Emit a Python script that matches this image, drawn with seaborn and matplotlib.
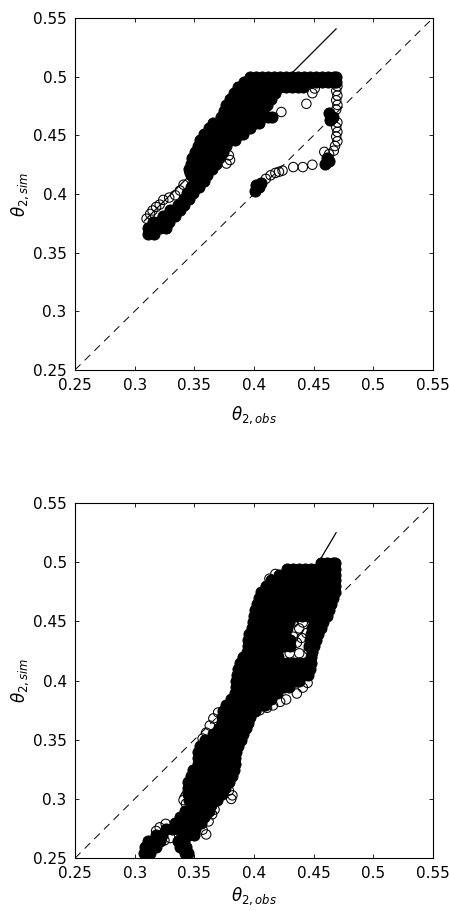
import numpy as np
import pandas as pd
import matplotlib
matplotlib.use("Agg")
import matplotlib.pyplot as plt
import seaborn as sns

# ---------------- data ----------------
TICKS = [0.25, 0.30, 0.35, 0.40, 0.45, 0.50, 0.55]
TICK_LABELS = ["0.25", "0.3", "0.35", "0.4", "0.45", "0.5", "0.55"]
ONE_TO_ONE = [0.25, 0.55]

# panel 1: fitted line end points
FIT1_X = [0.308, 0.469]
FIT1_Y = [0.377, 0.541]
# panel 2: fitted line end points
FIT2_X = [0.338, 0.469]
FIT2_Y = [0.302, 0.525]

# panel 1 - densely overlapping observations, listed row by row (theta_sim, [theta_obs ...])
TOP_DENSE_ROWS = [
    (0.366, [0.311, 0.316]),
    (0.371, [0.311, 0.316, 0.321, 0.326]),
    (0.376, [0.315, 0.320, 0.325, 0.329]),
    (0.381, [0.324, 0.329, 0.334]),
    (0.386, [0.330, 0.335, 0.338]),
    (0.391, [0.336, 0.341]),
    (0.396, [0.341, 0.346]),
    (0.401, [0.344, 0.349]),
    (0.406, [0.347, 0.352, 0.354]),
    (0.411, [0.350, 0.355, 0.358]),
    (0.416, [0.347, 0.352, 0.357, 0.361]),
    (0.421, [0.346, 0.351, 0.356, 0.361, 0.365]),
    (0.426, [0.347, 0.352, 0.357, 0.362, 0.368]),
    (0.431, [0.348, 0.353, 0.358, 0.363, 0.368, 0.371]),
    (0.436, [0.351, 0.356, 0.361, 0.366, 0.371, 0.374]),
    (0.441, [0.353, 0.358, 0.363, 0.368, 0.373, 0.377]),
    (0.446, [0.355, 0.360, 0.365, 0.370, 0.375, 0.380, 0.384]),
    (0.451, [0.358, 0.363, 0.368, 0.373, 0.378, 0.383, 0.388, 0.391]),
    (0.456, [0.362, 0.367, 0.372, 0.377, 0.382, 0.387, 0.392, 0.397]),
    (0.461, [0.366, 0.371, 0.376, 0.381, 0.386, 0.391, 0.396, 0.401, 0.404]),
    (0.466, [0.372, 0.377, 0.382, 0.387, 0.392, 0.397, 0.402, 0.407, 0.412, 0.415]),
    (0.471, [0.375, 0.380, 0.385, 0.390, 0.395, 0.400, 0.405, 0.408]),
    (0.476, [0.377, 0.382, 0.387, 0.392, 0.397, 0.402, 0.407, 0.411]),
    (0.481, [0.380, 0.385, 0.390, 0.395, 0.400, 0.405, 0.410, 0.414]),
    (0.486, [0.383, 0.388, 0.393, 0.398, 0.403, 0.408, 0.413, 0.418]),
    (0.491, [0.387, 0.392, 0.397, 0.402, 0.407, 0.412, 0.417, 0.422, 0.427, 0.432, 0.437, 0.441]),
    (0.496, [0.392, 0.397, 0.402, 0.407, 0.412, 0.417, 0.422, 0.427, 0.432, 0.437, 0.442,
             0.447, 0.452, 0.457, 0.462, 0.467, 0.469]),
    (0.4995, [0.397, 0.402, 0.407, 0.412, 0.417, 0.422, 0.427, 0.432, 0.437, 0.442,
              0.447, 0.452, 0.457, 0.462, 0.467, 0.469]),
]
TOP_CLUSTER_X = [0.463, 0.466, 0.464, 0.461, 0.463, 0.460, 0.401, 0.404, 0.406, 0.402]
TOP_CLUSTER_Y = [0.469, 0.466, 0.463, 0.431, 0.428, 0.426, 0.403, 0.406, 0.409, 0.408]

# panel 1 - isolated observations
TOP_OPEN_X = [0.310, 0.313, 0.315, 0.318, 0.321, 0.324, 0.329, 0.334, 0.338, 0.341, 0.346,
              0.357, 0.377, 0.380, 0.379,
              0.423, 0.444, 0.449, 0.451,
              0.469, 0.470, 0.469, 0.470, 0.469, 0.470, 0.469, 0.470, 0.469, 0.470,
              0.469, 0.470, 0.468, 0.467, 0.459, 0.463,
              0.410, 0.414, 0.418, 0.421, 0.424, 0.433, 0.441, 0.449]
TOP_OPEN_Y = [0.379, 0.383, 0.386, 0.389, 0.391, 0.395, 0.397, 0.399, 0.403, 0.408, 0.418,
              0.426, 0.426, 0.429, 0.433,
              0.470, 0.477, 0.486, 0.490,
              0.496, 0.492, 0.488, 0.484, 0.480, 0.476, 0.472, 0.461, 0.457, 0.453,
              0.449, 0.445, 0.441, 0.437, 0.436, 0.434,
              0.413, 0.416, 0.418, 0.419, 0.420, 0.423, 0.423, 0.425]

# panel 2 - densely overlapping observations
BOT_DENSE_ROWS = [
    (0.2545, [0.308, 0.313, 0.342, 0.345]),
    (0.2595, [0.309, 0.314, 0.318, 0.338, 0.343]),
    (0.2645, [0.311, 0.316, 0.321, 0.336, 0.341]),
    (0.2695, [0.318, 0.323, 0.340, 0.345, 0.350]),
    (0.2745, [0.326, 0.331, 0.336, 0.341, 0.346, 0.351]),
    (0.2795, [0.334, 0.339, 0.344, 0.349, 0.354, 0.356]),
    (0.2845, [0.338, 0.343, 0.348, 0.353, 0.358]),
    (0.2895, [0.342, 0.347, 0.352, 0.357, 0.362]),
    (0.2945, [0.347, 0.352, 0.357, 0.362, 0.364]),
    (0.2995, [0.346, 0.351, 0.356, 0.361, 0.366, 0.369]),
    (0.3045, [0.345, 0.350, 0.355, 0.360, 0.365, 0.370, 0.373]),
    (0.3095, [0.345, 0.350, 0.355, 0.360, 0.365, 0.370, 0.376]),
    (0.3145, [0.345, 0.350, 0.355, 0.360, 0.365, 0.370, 0.375, 0.379]),
    (0.3195, [0.347, 0.352, 0.357, 0.362, 0.367, 0.372, 0.377, 0.382]),
    (0.3245, [0.349, 0.354, 0.359, 0.364, 0.369, 0.374, 0.379, 0.383]),
    (0.3295, [0.353, 0.358, 0.363, 0.368, 0.373, 0.378, 0.384]),
    (0.3345, [0.353, 0.358, 0.363, 0.368, 0.373, 0.378, 0.384]),
    (0.3395, [0.353, 0.358, 0.363, 0.368, 0.373, 0.378, 0.385]),
    (0.3445, [0.355, 0.360, 0.365, 0.370, 0.375, 0.380, 0.387]),
    (0.3495, [0.359, 0.364, 0.369, 0.374, 0.379, 0.384, 0.389]),
    (0.3545, [0.366, 0.371, 0.376, 0.381, 0.386, 0.391]),
    (0.3595, [0.371, 0.376, 0.381, 0.386, 0.391, 0.393]),
    (0.3645, [0.373, 0.378, 0.383, 0.388, 0.393, 0.395]),
    (0.3695, [0.373, 0.378, 0.383, 0.388, 0.393, 0.397]),
    (0.3745, [0.374, 0.379, 0.384, 0.389, 0.394, 0.401]),
    (0.3795, [0.377, 0.382, 0.387, 0.392, 0.397, 0.402, 0.407, 0.409]),
    (0.3845, [0.381, 0.386, 0.391, 0.396, 0.401, 0.406, 0.411, 0.414]),
    (0.3895, [0.384, 0.389, 0.394, 0.399, 0.404, 0.409, 0.414, 0.419]),
    (0.3945, [0.385, 0.390, 0.395, 0.400, 0.405, 0.410, 0.415, 0.420, 0.425, 0.429]),
    (0.3995, [0.385, 0.390, 0.395, 0.400, 0.405, 0.410, 0.415, 0.420, 0.425, 0.430, 0.435, 0.438]),
    (0.4045, [0.386, 0.391, 0.396, 0.401, 0.406, 0.411, 0.416, 0.421, 0.426, 0.431, 0.436, 0.441, 0.445]),
    (0.4095, [0.387, 0.392, 0.397, 0.402, 0.407, 0.412, 0.417, 0.422, 0.427, 0.432, 0.437, 0.442, 0.447]),
    (0.4145, [0.388, 0.393, 0.398, 0.403, 0.408, 0.413, 0.418, 0.423, 0.428, 0.433, 0.438, 0.443, 0.448]),
    (0.4195, [0.391, 0.396, 0.401, 0.406, 0.411, 0.416, 0.420, 0.448]),
    (0.4245, [0.394, 0.399, 0.404, 0.409, 0.414, 0.419, 0.449]),
    (0.4295, [0.395, 0.400, 0.405, 0.410, 0.415, 0.420, 0.425, 0.430, 0.446, 0.450]),
    (0.4345, [0.395, 0.400, 0.405, 0.410, 0.415, 0.420, 0.425, 0.430, 0.447, 0.452]),
    (0.4395, [0.396, 0.401, 0.406, 0.411, 0.416, 0.421, 0.426, 0.448, 0.454]),
    (0.4445, [0.398, 0.403, 0.408, 0.413, 0.418, 0.423, 0.428, 0.449, 0.456]),
    (0.4495, [0.399, 0.404, 0.409, 0.414, 0.419, 0.424, 0.429, 0.450, 0.455, 0.458]),
    (0.4545, [0.400, 0.405, 0.410, 0.415, 0.420, 0.425, 0.430, 0.435, 0.440, 0.445, 0.450, 0.455, 0.461]),
    (0.4595, [0.401, 0.406, 0.411, 0.416, 0.421, 0.426, 0.431, 0.436, 0.441, 0.446, 0.451, 0.456, 0.463]),
    (0.4645, [0.403, 0.408, 0.413, 0.418, 0.423, 0.428, 0.433, 0.438, 0.443, 0.448, 0.453, 0.458, 0.465]),
    (0.4695, [0.404, 0.409, 0.414, 0.419, 0.424, 0.429, 0.434, 0.439, 0.444, 0.449, 0.454, 0.459, 0.466]),
    (0.4745, [0.406, 0.411, 0.416, 0.421, 0.426, 0.431, 0.436, 0.441, 0.446, 0.451, 0.456, 0.461, 0.468]),
    (0.4795, [0.410, 0.415, 0.420, 0.425, 0.430, 0.435, 0.440, 0.445, 0.450, 0.455, 0.460, 0.468]),
    (0.4845, [0.414, 0.419, 0.424, 0.429, 0.434, 0.439, 0.444, 0.449, 0.454, 0.459, 0.464, 0.468]),
    (0.4895, [0.421, 0.426, 0.431, 0.436, 0.441, 0.446, 0.451, 0.456, 0.461, 0.468]),
    (0.4945, [0.428, 0.433, 0.438, 0.443, 0.448, 0.453, 0.458, 0.463, 0.468]),
    (0.4995, [0.456, 0.461, 0.466, 0.468]),
]

# panel 2 - isolated observations
BOT_OPEN_X = [0.366, 0.363, 0.360, 0.370, 0.357,
              0.341, 0.343,
              0.321, 0.326, 0.318, 0.325, 0.330,
              0.346, 0.343,
              0.357, 0.362, 0.365, 0.360, 0.367,
              0.379, 0.382, 0.381,
              0.405, 0.411, 0.416, 0.422, 0.427, 0.436, 0.441, 0.445,
              0.433, 0.441, 0.438, 0.444, 0.436, 0.440, 0.438, 0.430, 0.433, 0.446,
              0.418, 0.413]
BOT_OPEN_Y = [0.368, 0.362, 0.356, 0.373, 0.351,
              0.299, 0.296,
              0.276, 0.279, 0.273, 0.265, 0.267,
              0.251, 0.259,
              0.274, 0.281, 0.287, 0.270, 0.291,
              0.307, 0.303, 0.300,
              0.375, 0.377, 0.379, 0.382, 0.384, 0.389, 0.394, 0.398,
              0.449, 0.449, 0.444, 0.440, 0.432, 0.436, 0.423, 0.423, 0.437, 0.426,
              0.490, 0.486]


def rows_to_frame(rows, extra_x=(), extra_y=()):
    xs, ys = [], []
    for yv, xlist in rows:
        for xv in xlist:
            xs.append(xv)
            ys.append(yv)
    xs.extend(extra_x)
    ys.extend(extra_y)
    return pd.DataFrame({"obs": xs, "sim": ys})


# ---------------- style ----------------
sns.set_theme(style="white")
plt.rcParams["font.family"] = ["DejaVu Sans"]
plt.rcParams["mathtext.fontset"] = "custom"
plt.rcParams["mathtext.rm"] = "DejaVu Sans"
plt.rcParams["mathtext.it"] = "DejaVu Sans:italic"

fig = plt.figure(figsize=(4.49, 9.11), dpi=100)
ax1 = fig.add_axes([0.167, 0.594, 0.797, 0.386])
ax2 = fig.add_axes([0.167, 0.058, 0.797, 0.390])

DENSE_S = 64
DENSE_LW = 0.7
OPEN_S = 46
OPEN_LW = 0.75


def draw_panel(ax, dense_df, open_df, fit_x, fit_y, xlabelpad):
    # heavily overplotted circles merge into solid black
    sns.scatterplot(data=dense_df, x="obs", y="sim", ax=ax, s=DENSE_S, marker="o",
                    facecolor="black", edgecolor="black", linewidth=DENSE_LW,
                    legend=False, zorder=2)
    sns.scatterplot(data=open_df, x="obs", y="sim", ax=ax, s=OPEN_S, marker="o",
                    facecolor="none", edgecolor="black", linewidth=OPEN_LW,
                    legend=False, zorder=2)
    ax.plot(ONE_TO_ONE, ONE_TO_ONE, color="black", lw=0.7, ls=(0, (8, 6)), zorder=3)
    ax.plot(fit_x, fit_y, color="black", lw=0.9, zorder=3)
    ax.set_xlim(0.25, 0.55)
    ax.set_ylim(0.25, 0.55)
    ax.set_xticks(TICKS)
    ax.set_yticks(TICKS)
    ax.set_xticklabels(TICK_LABELS)
    ax.set_yticklabels(TICK_LABELS)
    ax.tick_params(direction="in", length=3, width=0.6, top=True, right=True,
                   bottom=True, left=True, labelsize=11, pad=6, colors="black")
    for sp in ax.spines.values():
        sp.set_visible(True)
        sp.set_color("black")
        sp.set_linewidth(0.8)
    ax.set_xlabel(r"$\theta_{2,obs}$", fontsize=12, labelpad=xlabelpad, color="black")
    ax.set_ylabel(r"$\theta_{2,sim}$", fontsize=12, labelpad=1, color="black")
    ax.grid(False)


top_dense = rows_to_frame(TOP_DENSE_ROWS, TOP_CLUSTER_X, TOP_CLUSTER_Y)
top_open = pd.DataFrame({"obs": TOP_OPEN_X, "sim": TOP_OPEN_Y})
bot_dense = rows_to_frame(BOT_DENSE_ROWS)
bot_open = pd.DataFrame({"obs": BOT_OPEN_X, "sim": BOT_OPEN_Y})

draw_panel(ax1, top_dense, top_open, FIT1_X, FIT1_Y, 8)
draw_panel(ax2, bot_dense, bot_open, FIT2_X, FIT2_Y, 3)

fig.savefig("out.png", dpi=100, facecolor="white")
